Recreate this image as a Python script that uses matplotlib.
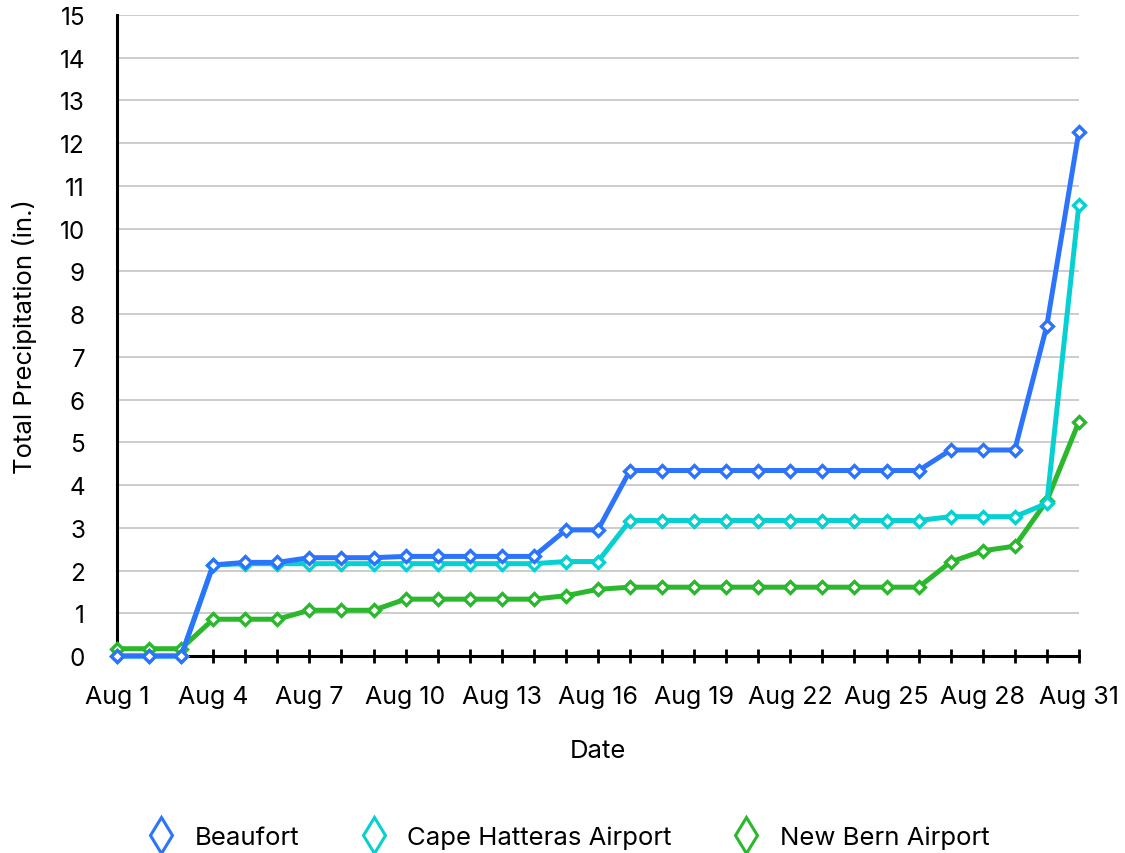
import numpy as np
import matplotlib.pyplot as plt
from matplotlib.lines import Line2D

plt.rcParams['font.family'] = ['Inter', 'DejaVu Sans']

# Data: cumulative precipitation, August (inches)
days = list(range(1, 32))
beaufort = [0, 0, 0, 2.13, 2.19, 2.19, 2.30, 2.30, 2.30, 2.33, 2.33, 2.33, 2.33, 2.33,
            2.95, 2.95, 4.34, 4.34, 4.34, 4.34, 4.34, 4.34, 4.34, 4.34, 4.34, 4.34,
            4.82, 4.82, 4.82, 7.73, 12.27]
cape_hatteras = [0, 0, 0, 2.13, 2.16, 2.16, 2.16, 2.16, 2.16, 2.16, 2.16, 2.16, 2.16, 2.16,
                 2.21, 2.21, 3.17, 3.17, 3.17, 3.17, 3.17, 3.17, 3.17, 3.17, 3.17, 3.17,
                 3.26, 3.26, 3.26, 3.57, 10.56]
new_bern = [0.17, 0.17, 0.17, 0.86, 0.86, 0.86, 1.07, 1.07, 1.07, 1.33, 1.33, 1.33, 1.33, 1.33,
            1.41, 1.56, 1.61, 1.61, 1.61, 1.61, 1.61, 1.61, 1.61, 1.61, 1.61, 1.61,
            2.20, 2.46, 2.57, 3.63, 5.48]

series = [
    ('Beaufort', beaufort, '#2b74fb'),
    ('Cape Hatteras Airport', cape_hatteras, '#06d0d2'),
    ('New Bern Airport', new_bern, '#2bb82d'),
]

FS = 18.5

fig = plt.figure(figsize=(11.25, 8.54), dpi=100)
ax = fig.add_axes([0.104, 0.2307, 0.855, 0.7506])

# draw last series first so Beaufort sits on top
for i, (name, vals, col) in reversed(list(enumerate(series))):
    ax.plot(days, vals, color=col, lw=3.6, marker='D', ms=6, mfc='white',
            mec=col, mew=2.4, zorder=3 + (3 - i), clip_on=False)

ax.set_xlim(1, 31)
ax.set_ylim(0, 15)
ax.set_yticks(range(0, 16))
ax.set_xticks(days)
ax.set_xticklabels([f'Aug {d}' if (d - 1) % 3 == 0 else '' for d in days])

ax.grid(axis='y', color='#c8c8c8', lw=1.3)
ax.set_axisbelow(True)
for s in ['top', 'right']:
    ax.spines[s].set_visible(False)
ax.spines['left'].set_linewidth(2.2)
ax.spines['bottom'].set_linewidth(2.2)

ax.tick_params(axis='y', length=0, pad=23, labelsize=17.5)
ax.tick_params(axis='x', direction='inout', length=10, width=2, pad=16, labelsize=18)

ax.set_ylabel('Total Precipitation (in.)', fontsize=FS, labelpad=16)
ax.set_xlabel('Date', fontsize=FS, labelpad=22)

handles = [Line2D([], [], ls='none', marker='d', ms=18, mfc='white', mec=col, mew=2.2)
           for _, _, col in series]
fig.legend(handles, [n for n, _, _ in series], loc='center', bbox_to_anchor=(0.5, 0.019),
           ncol=3, frameon=False, fontsize=FS, columnspacing=1.9, handletextpad=0.3)

plt.savefig('out.png', dpi=100)
